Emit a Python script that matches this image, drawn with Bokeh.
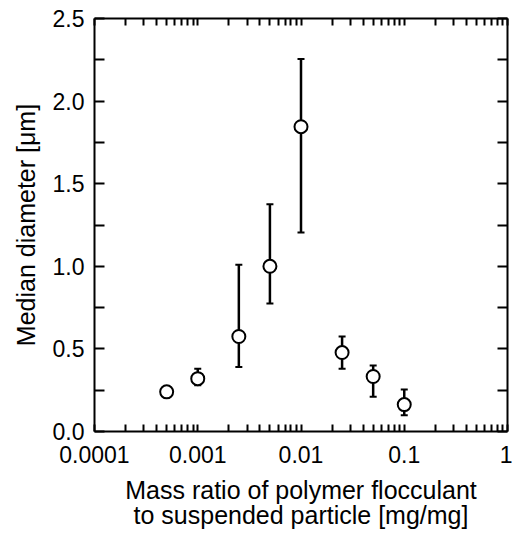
from bokeh.plotting import figure
from bokeh.models import (FixedTicker, CustomJSTickFormatter, LinearAxis, LogAxis,
                          Whisker, TeeHead, ColumnDataSource, Range1d)
from bokeh.embed import file_html
from bokeh.resources import INLINE

# ---- data ----
mass_ratio = [0.0005, 0.001, 0.0025, 0.005, 0.01, 0.025, 0.05, 0.1]
median_diameter = [0.24, 0.32, 0.575, 1.0, 1.845, 0.478, 0.333, 0.163]
err_upper = [0.26, 0.38, 1.01, 1.375, 2.255, 0.575, 0.40, 0.254]
err_lower = [0.22, 0.28, 0.39, 0.775, 1.205, 0.38, 0.21, 0.099]

x_ticks = [0.0001, 0.001, 0.01, 0.1, 1.0]
x_tick_labels = ["0.0001", "0.001", "0.01", "0.1", "1"]
y_ticks = [0.0, 0.5, 1.0, 1.5, 2.0, 2.5]
y_tick_labels = ["0.0", "0.5", "1.0", "1.5", "2.0", "2.5"]
y_minor = [0.25, 0.75, 1.25, 1.75, 2.25]

x_title = "Mass ratio of polymer flocculant\nto suspended particle [mg/mg]"
y_title = "Median diameter [\u03bcm]"

FONT = "Liberation Sans"

x_minor = [m * d for d in x_ticks[:-1] for m in range(2, 10)]

src = ColumnDataSource(dict(x=mass_ratio, y=median_diameter, upper=err_upper, lower=err_lower))

p = figure(width=512, height=532, x_axis_type="log",
           x_range=Range1d(x_ticks[0], x_ticks[-1]), y_range=Range1d(y_ticks[0], y_ticks[-1]),
           output_backend="svg", toolbar_location=None,
           min_border_left=94, min_border_right=5, min_border_top=18, min_border_bottom=100)
p.xgrid.visible = False
p.ygrid.visible = False
p.outline_line_color = None
p.background_fill_color = "white"
p.border_fill_color = "white"

xticker = FixedTicker(ticks=x_ticks, minor_ticks=x_minor)
yticker = FixedTicker(ticks=y_ticks, minor_ticks=y_minor)

xfmt = CustomJSTickFormatter(args=dict(tvals=x_ticks, tlabels=x_tick_labels), code="""
let best = 0, bd = Infinity;
for (let i = 0; i < tvals.length; i++) {
  const d = Math.abs(Math.log10(tick) - Math.log10(tvals[i]));
  if (d < bd) { bd = d; best = i; }
}
return tlabels[best];
""")
yfmt = CustomJSTickFormatter(args=dict(tvals=y_ticks, tlabels=y_tick_labels), code="""
let best = 0, bd = Infinity;
for (let i = 0; i < tvals.length; i++) {
  const d = Math.abs(tick - tvals[i]);
  if (d < bd) { bd = d; best = i; }
}
return tlabels[best];
""")

def style(ax, tick_len):
    ax.axis_line_width = 2
    ax.axis_line_color = "black"
    ax.major_tick_line_width = 2
    ax.minor_tick_line_width = 2
    ax.major_tick_line_color = "black"
    ax.minor_tick_line_color = "black"
    ax.major_tick_out = 0
    ax.minor_tick_out = 0
    ax.major_tick_in = tick_len
    ax.minor_tick_in = tick_len

xa = p.xaxis[0]
xa.ticker = xticker
xa.formatter = xfmt
style(xa, 7)
xa.major_label_text_font = FONT
xa.major_label_text_font_size = "23px"
xa.major_label_text_color = "black"
xa.major_label_standoff = 14
xa.axis_label = x_title
xa.axis_label_text_font = FONT
xa.axis_label_text_font_size = "25px"
xa.axis_label_text_font_style = "normal"
xa.axis_label_text_color = "black"
xa.axis_label_text_line_height = 0.92
xa.axis_label_standoff = 10

ya = p.yaxis[0]
ya.ticker = yticker
ya.formatter = yfmt
style(ya, 10)
ya.major_label_text_font = FONT
ya.major_label_text_font_size = "23px"
ya.major_label_text_color = "black"
ya.major_label_standoff = 10
ya.axis_label = y_title
ya.axis_label_text_font = FONT
ya.axis_label_text_font_size = "25px"
ya.axis_label_text_font_style = "normal"
ya.axis_label_text_color = "black"
ya.axis_label_standoff = 10

top = LogAxis(ticker=xticker, major_label_text_font_size="1px",
              major_label_text_alpha=0, major_label_standoff=0)
style(top, 7)
p.add_layout(top, "above")
right = LinearAxis(ticker=yticker, major_label_text_font_size="1px",
                   major_label_text_alpha=0, major_label_standoff=0)
style(right, 10)
p.add_layout(right, "right")

whisk = Whisker(source=src, base="x", upper="upper", lower="lower",
                line_width=2.5, line_color="black", level="underlay",
                upper_head=TeeHead(size=7, line_width=2, line_color="black"),
                lower_head=TeeHead(size=7, line_width=2, line_color="black"))
p.add_layout(whisk)

p.scatter("x", "y", source=src, size=13, fill_color="white", line_color="black", line_width=2)

open("out.html", "w").write(file_html(p, INLINE))
